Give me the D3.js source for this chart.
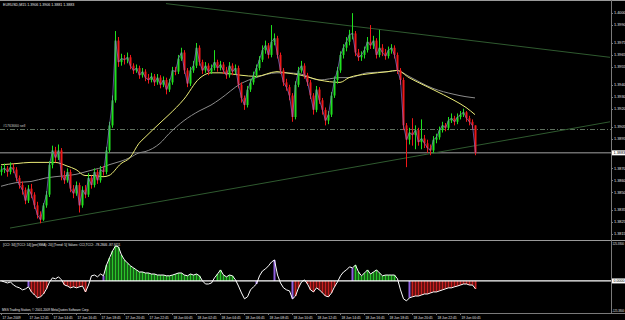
<!DOCTYPE html>
<html>
<head>
<meta charset="utf-8">
<script src="https://cdnjs.cloudflare.com/ajax/libs/d3/7.8.5/d3.min.js"></script>
<style>
  body { margin: 0; background: #000; }
  svg text { font-family: 'Liberation Sans', Arial, sans-serif; }
</style>
</head>
<body>
<div id="chart"></div>
<script>
// EURUSD M15, 17 Jun 2009 10:30 .. 19 Jun 2009 02:00
var symbolTitle = 'EURUSD,M15 1.3906 1.3906 1.3881 1.3883';
var cciTitle = '[CCI: 34] [TCCI: 14] [per(SMA): 20] [Trend: 5] Values: CCI,TCCI: -78.2846 -87.9111';
var footer = 'MSS Trading Station, \u00a9 2001-2009 MetaQuotes Software Corp.';

var opens = [
  1.3867,1.3869,1.3870,1.3867,1.3871,1.3869,1.3862,1.3856,1.3852,1.3843,
  1.3853,1.3848,1.3839,1.3831,1.3827,1.3839,1.3848,1.3873,1.3885,1.3879,
  1.3885,1.3864,1.3860,1.3867,1.3853,1.3849,1.3856,1.3839,1.3852,1.3848,
  1.3862,1.3856,1.3867,1.3860,1.3869,1.3867,1.3885,1.3906,1.3927,1.3977,
  1.3959,1.3962,1.3961,1.3963,1.3956,1.3952,1.3954,1.3948,1.3951,1.3946,
  1.3944,1.3947,1.3942,1.3946,1.3940,1.3944,1.3936,1.3942,1.3952,1.3951,
  1.3962,1.3967,1.3952,1.3941,1.3952,1.3956,1.3971,1.3959,1.3952,1.3956,
  1.3951,1.3954,1.3959,1.3954,1.3957,1.3952,1.3948,1.3956,1.3951,1.3954,
  1.3940,1.3929,1.3923,1.3936,1.3942,1.3948,1.3954,1.3961,1.3969,1.3973,
  1.3965,1.3976,1.3979,1.3965,1.3952,1.3942,1.3938,1.3931,1.3913,1.3940,
  1.3952,1.3956,1.3948,1.3942,1.3931,1.3919,1.3936,1.3927,1.3919,1.3910,
  1.3915,1.3931,1.3944,1.3952,1.3965,1.3971,1.3976,1.3982,1.3983,1.3967,
  1.3963,1.3965,1.3969,1.3976,1.3973,1.3977,1.3965,1.3971,1.3967,1.3964,
  1.3969,1.3971,1.3965,1.3952,1.3944,1.3906,1.3894,1.3900,1.3898,1.3902,
  1.3892,1.3895,1.3891,1.3887,1.3885,1.3894,1.3896,1.3902,1.3906,1.3904,
  1.3910,1.3912,1.3909,1.3913,1.3915,1.3917,1.3912,1.3909,1.3906
];
var highs = [
  1.3872,1.3874,1.3872,1.3875,1.3874,1.3871,1.3864,1.3859,1.3854,1.3856,
  1.3857,1.3850,1.3842,1.3834,1.3841,1.3851,1.3876,1.3889,1.3888,1.3890,
  1.3887,1.3868,1.3870,1.3869,1.3856,1.3859,1.3858,1.3855,1.3856,1.3866,
  1.3864,1.3870,1.3869,1.3872,1.3872,1.3888,1.3909,1.3931,1.3985,1.3980,
  1.3966,1.3965,1.3967,1.3965,1.3958,1.3957,1.3956,1.3954,1.3953,1.3949,
  1.3950,1.3949,1.3949,1.3948,1.3947,1.3946,1.3945,1.3955,1.3955,1.3965,
  1.3971,1.3969,1.3954,1.3955,1.3960,1.3975,1.3973,1.3961,1.3959,1.3958,
  1.3957,1.3969,1.3961,1.3960,1.3959,1.3955,1.3959,1.3958,1.3957,1.3956,
  1.3942,1.3931,1.3939,1.3945,1.3951,1.3957,1.3964,1.3973,1.3977,1.3975,
  1.3990,1.3983,1.3981,1.3967,1.3954,1.3945,1.3940,1.3933,1.3943,1.3955,
  1.3960,1.3958,1.3950,1.3944,1.3933,1.3939,1.3938,1.3929,1.3921,1.3918,
  1.3934,1.3947,1.3955,1.3968,1.3974,1.3980,1.3986,1.4000,1.3985,1.3970,
  1.3968,1.3972,1.3980,1.3990,1.3981,1.3979,1.3986,1.3974,1.3970,1.3972,
  1.3974,1.3973,1.3967,1.3954,1.3946,1.3908,1.3904,1.3912,1.3906,1.3904,
  1.3911,1.3898,1.3894,1.3890,1.3897,1.3899,1.3905,1.3909,1.3908,1.3913,
  1.3916,1.3914,1.3916,1.3918,1.3920,1.3918,1.3914,1.3911,1.3906
];
var lows = [
  1.3864,1.3866,1.3863,1.3865,1.3866,1.3859,1.3853,1.3848,1.3840,1.3841,
  1.3845,1.3836,1.3828,1.3824,1.3826,1.3837,1.3846,1.3870,1.3875,1.3877,
  1.3860,1.3857,1.3858,1.3850,1.3845,1.3847,1.3833,1.3837,1.3845,1.3846,
  1.3853,1.3854,1.3857,1.3858,1.3864,1.3865,1.3883,1.3904,1.3925,1.3955,
  1.3956,1.3957,1.3958,1.3953,1.3949,1.3950,1.3945,1.3946,1.3943,1.3941,
  1.3942,1.3939,1.3940,1.3937,1.3938,1.3932,1.3934,1.3940,1.3948,1.3949,
  1.3960,1.3949,1.3938,1.3939,1.3950,1.3954,1.3956,1.3949,1.3950,1.3948,
  1.3949,1.3952,1.3951,1.3952,1.3949,1.3945,1.3946,1.3948,1.3949,1.3937,
  1.3925,1.3919,1.3921,1.3934,1.3940,1.3946,1.3952,1.3959,1.3966,1.3962,
  1.3963,1.3973,1.3962,1.3949,1.3939,1.3935,1.3927,1.3909,1.3911,1.3938,
  1.3950,1.3945,1.3939,1.3928,1.3915,1.3917,1.3924,1.3915,1.3906,1.3907,
  1.3913,1.3929,1.3941,1.3950,1.3962,1.3968,1.3973,1.3978,1.3964,1.3960,
  1.3960,1.3962,1.3967,1.3970,1.3970,1.3962,1.3963,1.3964,1.3961,1.3962,
  1.3966,1.3962,1.3949,1.3940,1.3902,1.3871,1.3890,1.3889,1.3886,1.3889,
  1.3886,1.3887,1.3883,1.3881,1.3883,1.3891,1.3894,1.3900,1.3901,1.3902,
  1.3908,1.3906,1.3907,1.3911,1.3913,1.3909,1.3906,1.3903,1.3881
];
var closes = [
  1.3869,1.3870,1.3867,1.3871,1.3869,1.3862,1.3856,1.3852,1.3843,1.3853,
  1.3848,1.3839,1.3831,1.3827,1.3839,1.3848,1.3873,1.3885,1.3879,1.3885,
  1.3864,1.3860,1.3867,1.3853,1.3849,1.3856,1.3839,1.3852,1.3848,1.3862,
  1.3856,1.3867,1.3860,1.3869,1.3867,1.3885,1.3906,1.3927,1.3977,1.3959,
  1.3962,1.3961,1.3963,1.3956,1.3952,1.3954,1.3948,1.3951,1.3946,1.3944,
  1.3947,1.3942,1.3946,1.3940,1.3944,1.3936,1.3942,1.3952,1.3951,1.3962,
  1.3967,1.3952,1.3941,1.3952,1.3956,1.3971,1.3959,1.3952,1.3956,1.3951,
  1.3954,1.3959,1.3954,1.3957,1.3952,1.3948,1.3956,1.3951,1.3954,1.3940,
  1.3929,1.3923,1.3936,1.3942,1.3948,1.3954,1.3961,1.3969,1.3973,1.3965,
  1.3976,1.3979,1.3965,1.3952,1.3942,1.3938,1.3931,1.3913,1.3940,1.3952,
  1.3956,1.3948,1.3942,1.3931,1.3919,1.3936,1.3927,1.3919,1.3910,1.3915,
  1.3931,1.3944,1.3952,1.3965,1.3971,1.3976,1.3982,1.3983,1.3967,1.3963,
  1.3965,1.3969,1.3976,1.3973,1.3977,1.3965,1.3971,1.3967,1.3964,1.3969,
  1.3971,1.3965,1.3952,1.3944,1.3906,1.3894,1.3900,1.3898,1.3902,1.3892,
  1.3895,1.3891,1.3887,1.3885,1.3894,1.3896,1.3902,1.3906,1.3904,1.3910,
  1.3912,1.3909,1.3913,1.3915,1.3917,1.3912,1.3909,1.3906,1.3883
];

// moving averages, read at these bar numbers
var maBars = [0,5,10,15,18,22,25,28,31,34,36,40,43,46,48,53,56,61,66,70,73,80,85,92,95,100,106,113,116,122,129,132,136,144,151,155,158];
var yellowMA = [1.3873,1.3874,1.3875,1.3875,1.3875,1.3872,1.3869,1.3864,1.3864,1.3863,1.3864,1.3874,1.3879,1.3891,1.3896,1.3908,1.3915,1.3928,1.3945,1.3950,1.3950,1.3948,1.3947,1.3951,1.3950,1.3948,1.3944,1.3942,1.3946,1.3949,1.3951,1.3952,1.3946,1.3936,1.3927,1.3921,1.3915];
var grayMA = [1.3855,1.3858,1.3859,1.3862,1.3863,1.3864,1.3865,1.3867,1.3869,1.3871,1.3873,1.3876,1.3879,1.3883,1.3884,1.3891,1.3899,1.3910,1.3918,1.3923,1.3928,1.3941,1.3946,1.3950,1.3950,1.3949,1.3944,1.3946,1.3946,1.3950,1.3951,1.3952,1.3947,1.3937,1.3932,1.3930,1.3929];

// trend lines [bar, price]
var trendUpper = [[55, 1.4008], [203, 1.3963]];
var trendLower = [[3, 1.3820], [203, 1.3909]];
var orderPrice = 1.3903;
var orderLabel = '#1763660 sell';

var priceTicks = [1.4000,1.3990,1.3975,1.3965,1.3955,1.3940,1.3930,1.3920,1.3905,1.3895,1.3870,1.3860,1.3850,1.3835,1.3825,1.3815];

// CCI window
var cciValues = [
  0,-4,-8,-4,-16,-23,-27,-35,-31,-23,
  -43,-55,-66,-62,-51,-31,-4,12,8,16,
  4,-16,-20,-27,-23,-27,-23,-20,-43,-16,
  20,23,16,27,20,62,90,117,137,133,
  101,82,70,59,51,43,35,35,31,31,
  27,27,23,23,23,20,20,23,27,31,
  31,23,20,27,23,27,20,0,-12,-12,
  -8,12,27,43,23,16,23,20,4,-20,
  -47,-70,-62,-35,-23,-12,20,39,47,59,
  74,82,23,-8,-27,-35,-39,-70,-59,-27,
  -4,4,-12,-35,-43,-27,-35,-47,-59,-62,
  -47,-23,-4,20,35,43,55,51,62,35,
  20,31,43,27,35,43,31,20,23,23,
  23,23,8,-35,-70,-78,-66,-62,-59,-59,
  -55,-51,-51,-47,-43,-43,-39,-35,-31,-27,
  -27,-23,-20,-16,-12,-12,-16,-16,-31
];
// 1 up trend bar, -1 down trend bar, 2 turn bar, 0 none
var cciTrend = [
  0,0,0,0,0,0,0,0,0,2,
  -1,-1,-1,-1,-1,-1,0,0,0,0,
  0,-1,-1,-1,-1,-1,-1,-1,-1,0,
  0,0,0,0,2,1,1,1,1,1,
  1,1,1,1,1,1,1,1,1,1,
  1,1,1,1,1,1,1,1,1,1,
  1,1,1,1,1,1,1,0,0,0,
  0,0,1,1,1,1,1,1,0,0,
  0,0,0,0,0,2,0,0,0,0,
  0,2,0,0,0,0,0,2,-1,-1,
  0,0,-1,-1,-1,-1,-1,-1,-1,-1,
  -1,-1,0,0,0,0,0,2,1,1,
  1,1,1,1,1,1,1,1,1,1,
  1,1,0,0,0,0,2,-1,-1,-1,
  -1,-1,-1,-1,-1,-1,-1,-1,-1,-1,
  -1,-1,-1,-1,-1,-1,-1,-1,-1
];
var cciAxisLabels = ['125.3800', '-125.3800'];

var timeTicks = ['17 Jun 2009','17 Jun 12:45','17 Jun 14:45','17 Jun 16:45','17 Jun 18:45','17 Jun 20:45','17 Jun 22:45',
  '18 Jun 00:45','18 Jun 02:45','18 Jun 04:45','18 Jun 06:45','18 Jun 08:45','18 Jun 10:45','18 Jun 12:45',
  '18 Jun 14:45','18 Jun 16:45','18 Jun 18:45','18 Jun 20:45','18 Jun 22:45','19 Jun 00:45'];

var width = 625, height = 320;
var plotRight = 611;
var mainBottom = 240, cciTop = 240, cciBottom = 313;

var svg = d3.select('#chart')
  .append('svg')
  .attr('width', width)
  .attr('height', height);

svg.append('rect').attr('width', width).attr('height', height).attr('fill', '#000');

var xScale = d3.scaleLinear().domain([0, 203]).range([1, 610]);
var yScale = d3.scaleLinear().domain([1.4011, 1.3810]).range([0, mainBottom]);
var cciScale = d3.scaleLinear().domain([-125.38, 160]).range([cciBottom, cciTop]);

var fmtPrice = d3.format('.4f');
var fmtTime = d3.timeFormat('%d %b %H:%M');
var startTime = new Date(2009, 5, 17, 10, 30);
var bars = closes.map(function (c, i) {
  return {i: i, o: opens[i], h: highs[i], l: lows[i], c: c,
    t: d3.timeMinute.offset(startTime, 15 * i), cci: cciValues[i], trend: cciTrend[i]};
});

var defs = svg.append('defs');
defs.append('clipPath').attr('id', 'clipMain')
  .append('rect').attr('x', 0).attr('y', 0).attr('width', plotRight).attr('height', mainBottom);
defs.append('clipPath').attr('id', 'clipCci')
  .append('rect').attr('x', 0).attr('y', cciTop).attr('width', plotRight).attr('height', cciBottom - cciTop);

var main = svg.append('g').attr('clip-path', 'url(#clipMain)');

// order line and bid line
main.append('line')
  .attr('x1', 0).attr('x2', plotRight)
  .attr('y1', Math.round(yScale(orderPrice)) + 0.5).attr('y2', Math.round(yScale(orderPrice)) + 0.5)
  .attr('stroke', '#5e705e').attr('stroke-width', 1).attr('stroke-dasharray', '5,2,1,2');
main.append('text')
  .attr('x', 3).attr('y', yScale(orderPrice) - 2)
  .attr('fill', '#c8c8c8').attr('font-size', 3.6)
  .text(orderLabel);

var lastClose = closes[closes.length - 1];
main.append('line')
  .attr('x1', 0).attr('x2', plotRight)
  .attr('y1', yScale(lastClose)).attr('y2', yScale(lastClose))
  .attr('stroke', '#6c6c6c').attr('stroke-width', 1.5);

// trend lines, extended to the chart edges
function extend(tl) {
  var slope = (tl[1][1] - tl[0][1]) / (tl[1][0] - tl[0][0]);
  var endBar = xScale.domain()[1];
  return [[tl[0][0], tl[0][1]], [endBar, tl[0][1] + slope * (endBar - tl[0][0])]];
}
[trendUpper, trendLower].forEach(function (tl) {
  var pts = extend(tl);
  main.append('line')
    .attr('x1', xScale(pts[0][0])).attr('y1', yScale(pts[0][1]))
    .attr('x2', xScale(pts[1][0])).attr('y2', yScale(pts[1][1]))
    .attr('stroke', '#2f5a2f').attr('stroke-width', 1);
});

var maLine = d3.line()
  .x(function (d) { return xScale(d[0]); })
  .y(function (d) { return yScale(d[1]); })
  .curve(d3.curveMonotoneX);

main.append('path')
  .attr('d', maLine(maBars.map(function (b, k) { return [b, grayMA[k]]; })))
  .attr('fill', 'none').attr('stroke', '#8c8c8c').attr('stroke-width', 1);
main.append('path')
  .attr('d', maLine(maBars.map(function (b, k) { return [b, yellowMA[k]]; })))
  .attr('fill', 'none').attr('stroke', '#ecec78').attr('stroke-width', 1);

// candles
var bull = '#1ee11e', bear = '#f01818';
var candle = main.selectAll('.candle')
  .data(bars)
  .enter()
  .append('g')
  .attr('class', 'candle');

candle.append('line')
  .attr('x1', function (d) { return xScale(d.i) + 0.5; })
  .attr('x2', function (d) { return xScale(d.i) + 0.5; })
  .attr('y1', function (d) { return yScale(d.h); })
  .attr('y2', function (d) { return yScale(d.l); })
  .attr('stroke', function (d) { return d.c >= d.o ? bull : bear; })
  .attr('stroke-width', 1);

candle.append('rect')
  .attr('x', function (d) { return xScale(d.i) - 0.5; })
  .attr('width', 2)
  .attr('y', function (d) { return yScale(Math.max(d.o, d.c)); })
  .attr('height', function (d) { return Math.max(1, Math.abs(yScale(d.o) - yScale(d.c))); })
  .attr('fill', function (d) { return d.c >= d.o ? bull : bear; });

// thin close line
main.append('path')
  .attr('d', d3.line()
    .x(function (d) { return xScale(d.i) + 0.5; })
    .y(function (d) { return yScale(d.c); })(bars))
  .attr('fill', 'none').attr('stroke', '#8f74d8').attr('stroke-width', 0.8).attr('opacity', 0.85);

// CCI window
var cci = svg.append('g').attr('clip-path', 'url(#clipCci)');
var histColour = {'1': '#2bc42b', '-1': '#c82020', '2': '#9060e0'};

cci.selectAll('.hist')
  .data(bars.filter(function (d) { return d.trend !== 0; }))
  .enter()
  .append('rect')
  .attr('class', 'hist')
  .attr('x', function (d) { return xScale(d.i) - 0.5; })
  .attr('width', 2)
  .attr('y', function (d) { return Math.min(cciScale(d.cci), cciScale(0)); })
  .attr('height', function (d) { return Math.abs(cciScale(d.cci) - cciScale(0)); })
  .attr('fill', function (d) { return histColour[d.trend]; });

cci.append('line')
  .attr('x1', 0).attr('x2', plotRight)
  .attr('y1', cciScale(0)).attr('y2', cciScale(0))
  .attr('stroke', '#ffffff').attr('stroke-width', 1.2);

cci.append('path')
  .attr('d', d3.line()
    .x(function (d) { return xScale(d.i) + 0.5; })
    .y(function (d) { return cciScale(d.cci); })(bars))
  .attr('fill', 'none').attr('stroke', '#ffffff').attr('stroke-width', 1);

// frame
var frame = '#7a7a7a';
svg.append('line').attr('x1', 0).attr('x2', width).attr('y1', 0.5).attr('y2', 0.5).attr('stroke', '#9a9a9a');
svg.append('line').attr('x1', 0).attr('x2', width).attr('y1', mainBottom + 0.5).attr('y2', mainBottom + 0.5).attr('stroke', '#9a9a9a');
svg.append('line').attr('x1', 0).attr('x2', width).attr('y1', cciBottom + 0.5).attr('y2', cciBottom + 0.5).attr('stroke', frame);
svg.append('line').attr('x1', plotRight + 0.5).attr('x2', plotRight + 0.5).attr('y1', 0).attr('y2', cciBottom).attr('stroke', frame);

// price axis
var pAxis = svg.append('g').attr('class', 'price-axis');
pAxis.selectAll('line')
  .data(priceTicks)
  .enter()
  .append('line')
  .attr('x1', plotRight).attr('x2', plotRight + 2)
  .attr('y1', function (d) { return Math.round(yScale(d)) + 0.5; })
  .attr('y2', function (d) { return Math.round(yScale(d)) + 0.5; })
  .attr('stroke', frame);
pAxis.selectAll('text')
  .data(priceTicks)
  .enter()
  .append('text')
  .attr('x', plotRight + 3)
  .attr('y', function (d) { return yScale(d) + 1.3; })
  .attr('fill', '#e0e0e0').attr('font-size', 3.8)
  .text(function (d) { return fmtPrice(d); });

pAxis.append('rect')
  .attr('x', plotRight + 1).attr('y', yScale(lastClose) - 2.5)
  .attr('width', 13).attr('height', 5).attr('fill', '#ffffff');
pAxis.append('text')
  .attr('x', plotRight + 2.5).attr('y', yScale(lastClose) + 1.3)
  .attr('fill', '#000').attr('font-size', 3.8)
  .text(fmtPrice(lastClose));

// cci axis
pAxis.append('text')
  .attr('x', plotRight + 1.5).attr('y', cciTop + 4.5)
  .attr('fill', '#e0e0e0').attr('font-size', 3)
  .attr('textLength', 11.5).attr('lengthAdjust', 'spacingAndGlyphs')
  .text(cciAxisLabels[0]);
pAxis.append('text')
  .attr('x', plotRight + 1.2).attr('y', cciBottom - 1)
  .attr('fill', '#e0e0e0').attr('font-size', 3)
  .attr('textLength', 12).attr('lengthAdjust', 'spacingAndGlyphs')
  .text(cciAxisLabels[1]);
pAxis.append('rect')
  .attr('x', plotRight + 1).attr('y', cciScale(0) - 2.5)
  .attr('width', 13).attr('height', 5).attr('fill', '#ffffff');
pAxis.append('text')
  .attr('x', plotRight + 2.5).attr('y', cciScale(0) + 1.3)
  .attr('fill', '#000').attr('font-size', 3.6)
  .text(fmtPrice(0));

// time axis
var tAxis = svg.append('g').attr('class', 'time-axis');
var tickBars = timeTicks.map(function (lbl, k) {
  var idx = k === 0 ? 0 : bars.findIndex(function (b) { return fmtTime(b.t) === lbl; });
  return {label: lbl, i: idx};
});
tAxis.selectAll('line')
  .data(tickBars)
  .enter()
  .append('line')
  .attr('x1', function (d) { return xScale(d.i) + 0.5; })
  .attr('x2', function (d) { return xScale(d.i) + 0.5; })
  .attr('y1', cciBottom).attr('y2', cciBottom + 2)
  .attr('stroke', frame);
tAxis.selectAll('text')
  .data(tickBars)
  .enter()
  .append('text')
  .attr('x', function (d) { return xScale(d.i) + 1.5; })
  .attr('y', cciBottom + 5.5)
  .attr('fill', '#e0e0e0').attr('font-size', 3.3)
  .text(function (d) { return d.label; });

// captions
svg.append('text').attr('x', 3).attr('y', 6)
  .attr('fill', '#e8e8e8').attr('font-size', 3.6)
  .text(symbolTitle);
svg.append('text').attr('x', 3).attr('y', cciTop + 6)
  .attr('fill', '#e8e8e8').attr('font-size', 3.2)
  .text(cciTitle);
svg.append('text').attr('x', 2).attr('y', cciBottom - 2.5)
  .attr('fill', '#e8e8e8').attr('font-size', 3.1)
  .text(footer);
</script>
</body>
</html>
